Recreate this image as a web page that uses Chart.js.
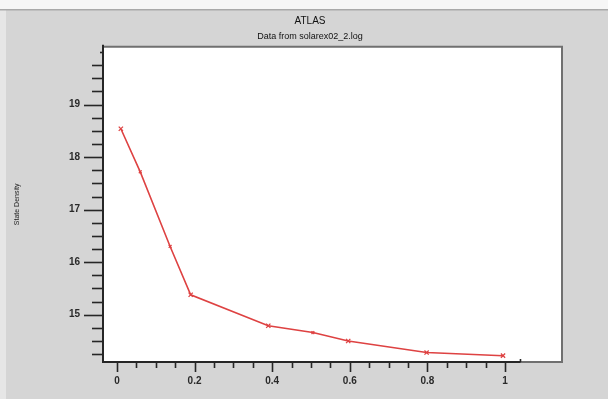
<!DOCTYPE html>
<html>
<head>
<meta charset="utf-8">
<script src="https://cdn.jsdelivr.net/npm/chart.js@4.4.1/dist/chart.umd.min.js"></script>
<style>
	html, body { margin: 0; padding: 0; background: #d5d5d5; }
	canvas { display: block; }
</style>
</head>
<body>
<canvas id="atlasChart" width="608" height="399"></canvas>
<script>
// ATLAS state density plot
var xValues = [0.01, 0.06, 0.137, 0.19, 0.39, 0.505, 0.596, 0.798, 0.995];
var densityValues = [18.54, 17.72, 16.30, 15.38, 14.79, 14.66, 14.50, 14.28, 14.22];
var markerSizes = [3, 2, 2, 3, 3, 2, 3, 3, 3];

var xTickValues = [0, 0.2, 0.4, 0.6, 0.8, 1];
var xTickLabels = ['0', '0.2', '0.4', '0.6', '0.8', '1'];
var yTickValues = [15, 16, 17, 18, 19];
var yTickLabels = ['15', '16', '17', '18', '19'];

(function () {
	'use strict';

	var AXIS_COLOR = '#262626';
	var LINE_RED = 'rgb(222, 66, 66)';

	var framePlugin = {
		id: 'atlasFrame',
		beforeDraw: function (chart) {
			var ctx = chart.ctx;
			var a = chart.chartArea;
			ctx.save();
			ctx.fillStyle = '#d5d5d5';
			ctx.fillRect(0, 0, chart.width, chart.height);
			// window strip along the top
			ctx.fillStyle = '#f6f6f6';
			ctx.fillRect(0, 0, chart.width, 9);
			ctx.fillStyle = '#e6e6e6';
			ctx.fillRect(0, 9, 6, chart.height - 9);
			ctx.fillStyle = '#a9a9a9';
			ctx.fillRect(0, 9, chart.width, 1.5);
			// white plot box
			ctx.fillStyle = '#ffffff';
			ctx.fillRect(a.left, a.top, a.right - a.left, a.bottom - a.top);
			ctx.strokeStyle = '#707070';
			ctx.lineWidth = 2;
			ctx.beginPath();
			ctx.moveTo(a.left, a.top);
			ctx.lineTo(a.right, a.top);
			ctx.lineTo(a.right, a.bottom);
			ctx.lineTo(a.left, a.bottom);
			ctx.stroke();
			ctx.restore();
		},
		afterDraw: function (chart) {
			var ctx = chart.ctx;
			var a = chart.chartArea;
			var xs = chart.scales.x;
			var ys = chart.scales.y;
			var v, px, len;
			ctx.save();
			ctx.strokeStyle = AXIS_COLOR;
			ctx.lineWidth = 2;

			// y axis with ticks pointing left
			ctx.beginPath();
			ctx.moveTo(a.left, a.top - 2);
			ctx.lineTo(a.left, a.bottom + 1);
			ctx.stroke();
			ctx.lineWidth = 1.6;
			for (v = 14.25; v <= 20.001; v += 0.25) {
				px = Math.round(ys.getPixelForValue(v)) + 0.5;
				if (v > 19.9) {
					len = 3;
				} else {
					len = Math.abs(v - Math.round(v)) < 1e-6 ? 19 : 11;
				}
				ctx.beginPath();
				ctx.moveTo(a.left - len, px);
				ctx.lineTo(a.left, px);
				ctx.stroke();
			}

			// x axis with ticks pointing down
			var xEnd = xs.getPixelForValue(1.04);
			ctx.lineWidth = 2;
			ctx.beginPath();
			ctx.moveTo(a.left, a.bottom);
			ctx.lineTo(xEnd, a.bottom);
			ctx.stroke();
			ctx.lineWidth = 1.6;
			for (v = 0; v <= 1.0001; v += 0.05) {
				px = Math.round(xs.getPixelForValue(v)) + 0.5;
				len = Math.abs(v * 5 - Math.round(v * 5)) < 1e-6 ? 10 : 6;
				ctx.beginPath();
				ctx.moveTo(px, a.bottom);
				ctx.lineTo(px, a.bottom + len);
				ctx.stroke();
			}
			ctx.beginPath();
			ctx.moveTo(xEnd, a.bottom);
			ctx.lineTo(xEnd, a.bottom - 3);
			ctx.stroke();
			ctx.restore();
		}
	};

	var points = xValues.map(function (x, i) {
		return { x: x, y: densityValues[i] };
	});

	new Chart(document.getElementById('atlasChart'), {
		type: 'scatter',
		data: {
			datasets: [{
				label: 'State Density',
				data: points,
				showLine: true,
				borderColor: LINE_RED,
				backgroundColor: LINE_RED,
				borderWidth: 1.6,
				tension: 0,
				pointStyle: 'crossRot',
				pointRadius: markerSizes,
				pointBorderWidth: 1.3,
				pointHoverRadius: 3,
			}],
		},
		options: {
			responsive: false,
			animation: false,
			events: [],
			layout: { padding: { left: 12, right: 0, top: 0, bottom: 0 } },
			plugins: {
				legend: { display: false },
				tooltip: { enabled: false },
				title: {
					display: true,
					text: 'ATLAS',
					color: '#111',
					font: { family: 'Liberation Sans', size: 10, weight: 'normal', lineHeight: 1.2 },
					padding: { top: 15, bottom: 2 },
				},
				subtitle: {
					display: true,
					text: 'Data from solarex02_2.log',
					color: '#111',
					font: { family: 'Liberation Sans', size: 9, lineHeight: 1.2 },
					padding: { top: 2, bottom: 5 },
				},
			},
			scales: {
				x: {
					type: 'linear',
					min: -0.036,
					max: 1.147,
					grid: { display: false, drawTicks: false },
					border: { display: false },
					afterFit: function (scale) { scale.height = 37; },
					afterBuildTicks: function (scale) {
						scale.ticks = xTickValues.map(function (v) { return { value: v }; });
					},
					ticks: {
						autoSkip: false,
						maxRotation: 0,
						padding: 13,
						color: '#2a2a2a',
						font: { family: 'Liberation Sans', size: 10, weight: 'bold' },
						callback: function (value, index) { return xTickLabels[index]; },
					},
				},
				y: {
					type: 'linear',
					min: 14.1,
					max: 20.1,
					grid: { display: false, drawTicks: false },
					border: { display: false },
					afterFit: function (scale) { scale.width = 91; },
					afterBuildTicks: function (scale) {
						scale.ticks = yTickValues.map(function (v) { return { value: v }; });
					},
					ticks: {
						autoSkip: false,
						padding: 23,
						color: '#2a2a2a',
						font: { family: 'Liberation Sans', size: 10, weight: 'bold' },
						callback: function (value, index) { return yTickLabels[index]; },
					},
					title: {
						display: true,
						text: 'State Density',
						color: '#222',
						font: { family: 'Liberation Sans', size: 7 },
						padding: 1,
					},
				},
				spacer: {
					type: 'linear',
					position: 'right',
					display: true,
					grid: { display: false, drawTicks: false },
					border: { display: false },
					ticks: { display: false },
					afterFit: function (scale) { scale.width = 46; },
				},
			},
		},
		plugins: [framePlugin],
	});
})();
</script>
</body>
</html>
